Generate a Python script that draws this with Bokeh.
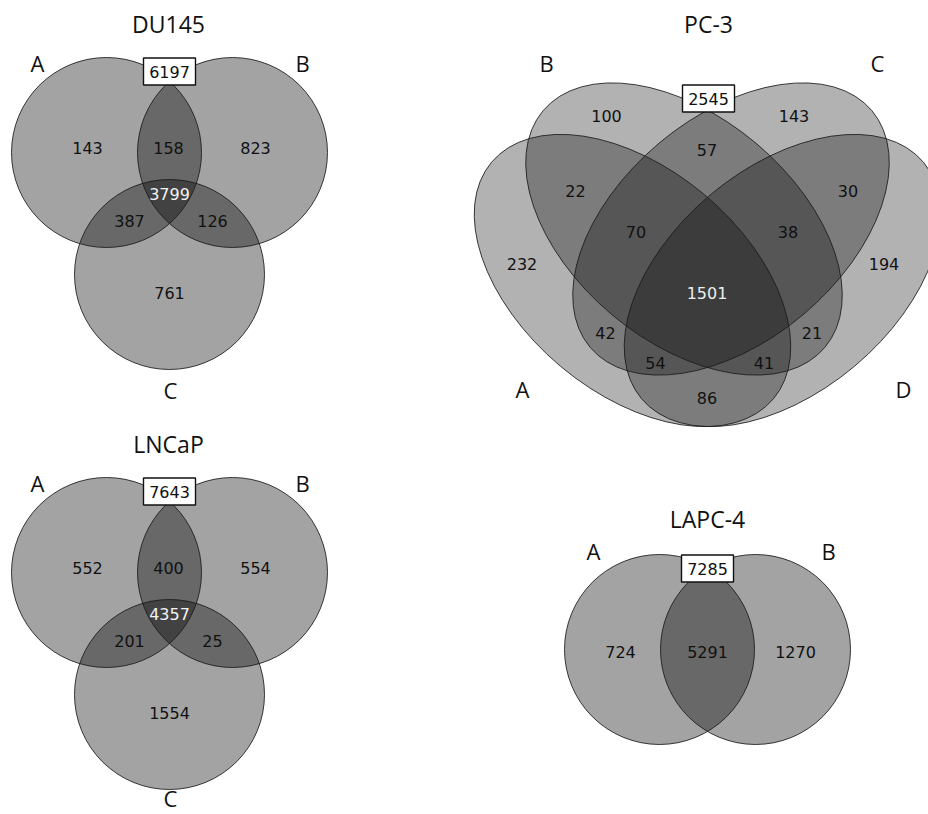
import math
from bokeh.plotting import figure
from bokeh.models import Range1d, ColumnDataSource
from bokeh.embed import file_html
from bokeh.resources import INLINE
from bokeh.core.properties import value

# ---------------- data ----------------
titles = ["DU145", "PC-3", "LNCaP", "LAPC-4"]

du145_regions = ["A", "B", "C", "AB", "AC", "BC", "ABC"]
du145_counts = [143, 823, 761, 158, 387, 126, 3799]
du145_total = 6197

lncap_regions = ["A", "B", "C", "AB", "AC", "BC", "ABC"]
lncap_counts = [552, 554, 1554, 400, 201, 25, 4357]
lncap_total = 7643

lapc4_regions = ["A", "B", "AB"]
lapc4_counts = [724, 1270, 5291]
lapc4_total = 7285

pc3_regions = ["A", "B", "C", "D", "AB", "BC", "CD", "AC", "BD", "AD",
               "ABC", "BCD", "ACD", "ABD", "ABCD"]
pc3_counts = [232, 100, 143, 194, 22, 57, 30, 42, 21, 86, 70, 38, 54, 41, 1501]
pc3_total = 2545

# ---------------- layout (screen pixels, y down) ----------------
W, H = 928, 814
def Y(y):
    return H - y

three_layout = {
    "circles": {"A": (106, 152), "B": (232, 152), "C": (169, 274)},
    "r": 95,
    "setlabels": {"A": (37, 62), "B": (302, 62), "C": (170, 389)},
    "title": (168, 23),
    "box": (169, 71),
    "regions": {"A": (87, 147.5), "B": (255, 147.5), "C": (169, 292),
                "AB": (168, 147.5), "AC": (129, 220), "BC": (212, 220),
                "ABC": (169, 193.5)},
}
lapc4_layout = {
    "circles": {"A": (659, 649), "B": (755, 649)},
    "r": 95,
    "setlabels": {"A": (593, 550), "B": (828, 550)},
    "title": (707, 518),
    "box": (707, 568),
    "regions": {"A": (620, 651), "B": (795, 651), "AB": (707, 651)},
}
pc3_layout = {
    "ellipses": {"A": (632, 280, -40), "B": (683.5, 228.5, -40),
                 "C": (730.5, 228.5, 40), "D": (782, 280, 40)},
    "a": 184, "b": 112,
    "setlabels": {"A": (522, 388), "B": (546, 62), "C": (877, 62), "D": (903, 388)},
    "title": (708, 23),
    "box": (708, 98),
    "regions": {"A": (521.5, 263), "B": (606, 115), "C": (793.5, 115), "D": (883.5, 263),
                "AB": (575, 190.5), "BC": (706.5, 149), "CD": (847.5, 190.5),
                "AC": (605, 332), "BD": (811.5, 332), "AD": (706.5, 397.5),
                "ABC": (635.5, 231), "BCD": (787.5, 231), "ACD": (655, 362),
                "ABD": (763.5, 362), "ABCD": (706.5, 292)},
}

p = figure(width=W, height=H, output_backend="svg", toolbar_location=None,
           x_range=Range1d(0, W), y_range=Range1d(0, H), min_border=0)
p.axis.visible = False
p.grid.visible = False
p.outline_line_color = None
p.background_fill_color = "white"

FILL = "black"
LINE = "#1a1a1a"
NUM_SIZE = "16px"

titles_x, titles_y, titles_t = [], [], []
lab_x, lab_y, lab_t = [], [], []
num_x, num_y, num_t, num_c = [], [], [], []
box_x, box_y, box_t = [], [], []

def add_three(layout, regions, counts, total, dy, title, c_label_y=None):
    r = layout["r"]
    cx = [layout["circles"][k][0] for k in ["A", "B", "C"]]
    cy = [Y(layout["circles"][k][1] + dy) for k in ["A", "B", "C"]]
    src = ColumnDataSource(dict(x=cx, y=cy))
    p.circle("x", "y", radius=r, source=src, fill_color=FILL, fill_alpha=0.36, line_color=None)
    p.circle("x", "y", radius=r, source=src, fill_color=None, line_color=LINE, line_width=1, line_alpha=0.85)
    tx, ty = layout["title"]
    titles_x.append(tx); titles_y.append(Y(ty + dy)); titles_t.append(title)
    for k in ["A", "B", "C"]:
        lx, ly = layout["setlabels"][k]
        if k == "C" and c_label_y is not None:
            ly = c_label_y - dy
        lab_x.append(lx); lab_y.append(Y(ly + dy)); lab_t.append(k)
    for reg, cnt in zip(regions, counts):
        x, y = layout["regions"][reg]
        num_x.append(x); num_y.append(Y(y + dy)); num_t.append(str(cnt))
        num_c.append("#f2f2f2" if reg == "ABC" else "#111111")
    bx, by = layout["box"]
    box_x.append(bx); box_y.append(Y(by + dy)); box_t.append(str(total))

add_three(three_layout, du145_regions, du145_counts, du145_total, 0, titles[0])
add_three(three_layout, lncap_regions, lncap_counts, lncap_total, 420, titles[2], c_label_y=797)

# LAPC-4
src2 = ColumnDataSource(dict(x=[lapc4_layout["circles"][k][0] for k in ["A", "B"]],
                             y=[Y(lapc4_layout["circles"][k][1]) for k in ["A", "B"]]))
p.circle("x", "y", radius=lapc4_layout["r"], source=src2, fill_color=FILL, fill_alpha=0.36, line_color=None)
p.circle("x", "y", radius=lapc4_layout["r"], source=src2, fill_color=None, line_color=LINE, line_width=1, line_alpha=0.85)
titles_x.append(lapc4_layout["title"][0]); titles_y.append(Y(lapc4_layout["title"][1])); titles_t.append(titles[3])
for k in ["A", "B"]:
    lx, ly = lapc4_layout["setlabels"][k]
    lab_x.append(lx); lab_y.append(Y(ly)); lab_t.append(k)
for reg, cnt in zip(lapc4_regions, lapc4_counts):
    x, y = lapc4_layout["regions"][reg]
    num_x.append(x); num_y.append(Y(y)); num_t.append(str(cnt)); num_c.append("#111111")
box_x.append(lapc4_layout["box"][0]); box_y.append(Y(lapc4_layout["box"][1])); box_t.append(str(lapc4_total))

# PC-3
ks = ["A", "B", "C", "D"]
src4 = ColumnDataSource(dict(
    x=[pc3_layout["ellipses"][k][0] for k in ks],
    y=[Y(pc3_layout["ellipses"][k][1]) for k in ks],
    ang=[math.radians(pc3_layout["ellipses"][k][2]) for k in ks]))
p.ellipse("x", "y", width=2 * pc3_layout["a"], height=2 * pc3_layout["b"], angle="ang",
          source=src4, fill_color=FILL, fill_alpha=0.3, line_color=None)
p.ellipse("x", "y", width=2 * pc3_layout["a"], height=2 * pc3_layout["b"], angle="ang",
          source=src4, fill_color=None, line_color=LINE, line_width=1, line_alpha=0.85)
titles_x.append(pc3_layout["title"][0]); titles_y.append(Y(pc3_layout["title"][1])); titles_t.append(titles[1])
for k in ks:
    lx, ly = pc3_layout["setlabels"][k]
    lab_x.append(lx); lab_y.append(Y(ly)); lab_t.append(k)
for reg, cnt in zip(pc3_regions, pc3_counts):
    x, y = pc3_layout["regions"][reg]
    num_x.append(x); num_y.append(Y(y)); num_t.append(str(cnt))
    num_c.append("#eeeeee" if reg == "ABCD" else "#111111")
box_x.append(pc3_layout["box"][0]); box_y.append(Y(pc3_layout["box"][1])); box_t.append(str(pc3_total))

# boxes
bsrc = ColumnDataSource(dict(x=box_x, y=box_y, t=box_t))
p.rect("x", "y", width=52, height=27, source=bsrc, fill_color="white",
       line_color="#111111", line_width=1.4)
p.text("x", "y", text="t", source=bsrc, text_align="center", text_baseline="middle",
       text_font=value("DejaVu Sans"), text_font_size=NUM_SIZE, text_color="#111111")

# numbers
nsrc = ColumnDataSource(dict(x=num_x, y=num_y, t=num_t, c=num_c))
p.text("x", "y", text="t", source=nsrc, text_align="center", text_baseline="middle",
       text_font=value("DejaVu Sans"), text_font_size=NUM_SIZE, text_color="c")

# set labels
lsrc = ColumnDataSource(dict(x=lab_x, y=lab_y, t=lab_t))
p.text("x", "y", text="t", source=lsrc, text_align="center", text_baseline="middle",
       text_font=value("Open Sans"), text_font_size="22px", text_color="#111111")

# titles
tsrc = ColumnDataSource(dict(x=titles_x, y=titles_y, t=titles_t))
p.text("x", "y", text="t", source=tsrc, text_align="center", text_baseline="middle",
       text_font=value("Open Sans"), text_font_size="23px", text_color="#111111")

open("out.html", "w").write(file_html(p, INLINE))
